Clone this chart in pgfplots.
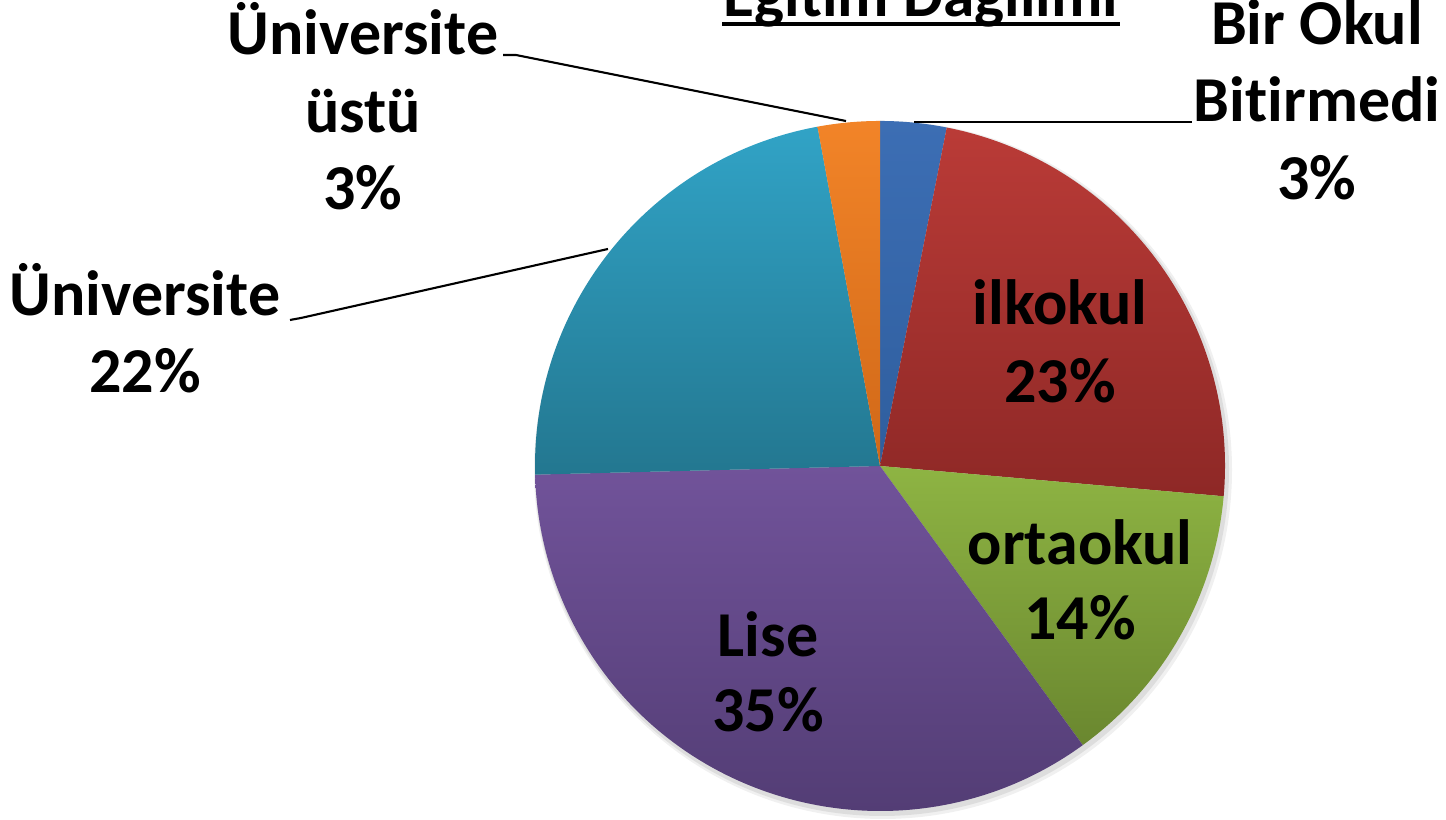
\documentclass[border=0pt]{standalone}
\usepackage{pgfplots}
\usepackage{pgfplotstable}
\pgfplotsset{compat=1.18}
\usepackage{fontspec}
\setmainfont[RawFeature={-liga}]{Carlito}
\definecolor{ctop0}{HTML}{3C6EB4}\definecolor{cbot0}{HTML}{2F5E9E}
\definecolor{ctop1}{HTML}{BA3B37}\definecolor{cbot1}{HTML}{8E2826}
\definecolor{ctop2}{HTML}{8EB443}\definecolor{cbot2}{HTML}{6A872F}
\definecolor{ctop3}{HTML}{71539A}\definecolor{cbot3}{HTML}{4F3A70}
\definecolor{ctop4}{HTML}{31A3C6}\definecolor{cbot4}{HTML}{237790}
\definecolor{ctop5}{HTML}{F28428}\definecolor{cbot5}{HTML}{D06818}
\pgfplotstableread{
label value
BirOkulBitirmedi 3.1
ilkokul 23.3
ortaokul 13.6
Lise 34.6
Universite 22.5
UniversiteUstu 2.9
}\piedata
\newcommand{\lab}[1]{\fontsize{18.2pt}{22pt}\selectfont\bfseries #1}
\begin{document}
\begin{tikzpicture}
\begin{axis}[scale only axis, width=14.46cm, height=8.2cm,
  xmin=0, xmax=1446, ymin=0, ymax=820, hide axis, clip=false]
\coordinate (bl) at (0,0);
\coordinate (tr) at (1446,820);
% shadow
\fill[black, opacity=0.06] (883,350) circle[radius=3.49cm];
\fill[black, opacity=0.08] (882,351) circle[radius=3.47cm];
\def\cumul{0}
\pgfplotsforeachungrouped \i in {0,...,5}{%
  \pgfplotstablegetelem{\i}{value}\of\piedata
  \let\v\pgfplotsretval
  \pgfmathsetmacro\a{90-3.6*\cumul}%
  \pgfmathsetmacro\b{90-3.6*(\cumul+\v)}%
  \pgfmathsetmacro\cumul{\cumul+\v}%
  \edef\temp{\noexpand\shade[top color=ctop\i, bottom color=cbot\i]
    (880,354) -- ++(\a:3.45cm) arc[start angle=\a, end angle=\b, radius=3.45cm] -- cycle;}%
  \temp
}
% leader lines
\draw[line width=0.6pt] (914,698) -- (1192,698);
\draw[line width=0.6pt] (503,765) -- (516,765) -- (846,699);
\draw[line width=0.6pt] (290,500) -- (301,502) -- (608,571);
% title
\node[anchor=base, inner sep=0pt] at (921,803) {\fontsize{18pt}{22pt}\selectfont\bfseries Eğitim Dağılımı};
\draw[line width=0.9pt] (722,796) -- (1120,796);
% labels
\node[anchor=base, inner sep=0pt] at (1317,775) {\lab{Bir Okul}};
\node[anchor=base, inner sep=0pt] at (1317,698) {\lab{Bitirmedi}};
\node[anchor=base, inner sep=0pt] at (1317,620) {\lab{3\%}};
\node[anchor=base, inner sep=0pt] at (1060,495) {\lab{ilkokul}};
\node[anchor=base, inner sep=0pt] at (1060,417) {\lab{23\%}};
\node[anchor=base, inner sep=0pt] at (1080,255) {\lab{ortaokul}};
\node[anchor=base, inner sep=0pt] at (1080,180) {\lab{14\%}};
\node[anchor=base, inner sep=0pt] at (768,163) {\lab{Lise}};
\node[anchor=base, inner sep=0pt] at (768,88) {\lab{35\%}};
\node[anchor=base, inner sep=0pt] at (145,504) {\lab{Üniversite}};
\node[anchor=base, inner sep=0pt] at (145,427) {\lab{22\%}};
\node[anchor=base, inner sep=0pt] at (363,765) {\lab{Üniversite}};
\node[anchor=base, inner sep=0pt] at (363,687) {\lab{üstü}};
\node[anchor=base, inner sep=0pt] at (363,610) {\lab{3\%}};
\end{axis}
\pgfresetboundingbox
\path[use as bounding box] (bl) rectangle (tr);
\end{tikzpicture}
\end{document}
